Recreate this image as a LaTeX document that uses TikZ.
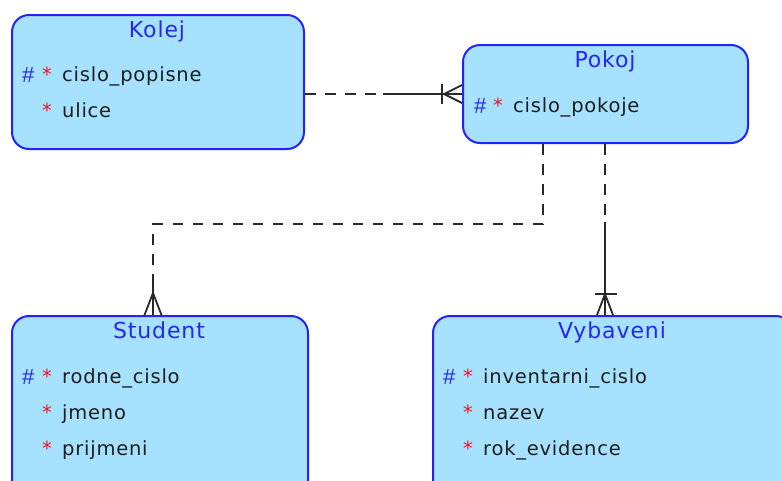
\documentclass[tikz,border=0pt]{standalone}
\usepackage{fontspec}
\setmainfont{DejaVu Sans}
\newfontfamily\spacedfont{DejaVu Sans}[LetterSpace=4]
\newfontfamily\keyfont{Liberation Sans}
\definecolor{entfill}{RGB}{166,225,255}
\definecolor{entline}{RGB}{35,35,255}
\definecolor{titleblue}{RGB}{40,40,235}
\definecolor{keyred}{RGB}{240,20,30}
\definecolor{relline}{RGB}{40,40,40}
\definecolor{txt}{RGB}{30,30,30}
\begin{document}
\begin{tikzpicture}[x=1pt,y=-1pt,
  entity/.style={draw=entline, fill=entfill, line width=2pt,
    rounded corners=17pt, inner sep=0pt, anchor=north west},
  etitle/.style={text=titleblue, inner sep=0pt, anchor=base,
    font=\spacedfont\fontsize{22}{26}\selectfont},
  attr/.style={text=txt, inner sep=0pt, anchor=base west,
    font=\spacedfont\fontsize{19.5}{23}\selectfont},
  pk/.style={text=titleblue, inner sep=0pt, anchor=base west,
    font=\keyfont\fontsize{22}{26}\selectfont},
  mand/.style={text=keyred, inner sep=0pt, anchor=base west,
    font=\fontsize{19.5}{23}\selectfont},
  rel/.style={draw=relline, line width=1.8pt},
  optional/.style={rel, dash pattern=on 10.5pt off 9.5pt},
]
\useasboundingbox (0,0) rectangle (782,480);
\clip (0,0) rectangle (782,480);

% ---- entities ----
\node[entity, minimum width=292pt, minimum height=134pt] (kolej) at (11,14) {};
\node[entity, minimum width=285pt, minimum height=98pt] (pokoj) at (462,44) {};
\node[entity, minimum width=296pt, minimum height=190pt] (student) at (11,315) {};
\node[entity, minimum width=360pt, minimum height=190pt] (vybaveni) at (432,315) {};

% ---- Kolej ----
\node[etitle] (kolejT) at (157,37) {Kolej};
\node[pk]   (kolejH1) at (22,82) {\#};
\node[mand] (kolejS1) at (42,81) {*};
\node[attr] (kolejA1) at (62,81) {cislo\_popisne};
\node[mand] (kolejS2) at (42,117) {*};
\node[attr] (kolejA2) at (62,117) {ulice};

% ---- Pokoj ----
\node[etitle] (pokojT) at (605,67) {Pokoj};
\node[pk]   (pokojH1) at (474,113) {\#};
\node[mand] (pokojS1) at (493,112) {*};
\node[attr] (pokojA1) at (513,112) {cislo\_pokoje};

% ---- Student ----
\node[etitle] (studentT) at (159,338) {Student};
\node[pk]   (studentH1) at (22,384) {\#};
\node[mand] (studentS1) at (42,383) {*};
\node[attr] (studentA1) at (62,383) {rodne\_cislo};
\node[mand] (studentS2) at (42,419) {*};
\node[attr] (studentA2) at (62,419) {jmeno};
\node[mand] (studentS3) at (42,455) {*};
\node[attr] (studentA3) at (62,455) {prijmeni};

% ---- Vybaveni ----
\node[etitle] (vybaveniT) at (612,338) {Vybaveni};
\node[pk]   (vybaveniH1) at (443,384) {\#};
\node[mand] (vybaveniS1) at (463,383) {*};
\node[attr] (vybaveniA1) at (483,383) {inventarni\_cislo};
\node[mand] (vybaveniS2) at (463,419) {*};
\node[attr] (vybaveniA2) at (483,419) {nazev};
\node[mand] (vybaveniS3) at (463,455) {*};
\node[attr] (vybaveniA3) at (483,455) {rok\_evidence};

% ---- Kolej -- Pokoj (one to many) ----
\coordinate (kp) at (383,94);
\coordinate (kpEnd) at (pokoj.west |- kp);
\draw[optional] (kolej.east |- kp) -- (kp);
\draw[rel] (kp) -- (kpEnd);
\draw[rel] (kpEnd) ++(-20,-10) -- ++(0,20);
\draw[rel] (kpEnd) ++(0,-9) -- ++(-18,9) -- ++(18,9);

% ---- Pokoj -- Student (optional many) ----
\coordinate (ps) at (543,224);
\coordinate (sb) at (153,224);
\coordinate (se) at (153,284);
\coordinate (sEnd) at (student.north -| sb);
\draw[optional] (pokoj.south -| ps) -- (ps) -- (sb) -- (se);
\draw[rel] (se) -- (sEnd);
\draw[rel] (sEnd) ++(-8.5,0) -- ++(8.5,-22) -- ++(8.5,22);

% ---- Pokoj -- Vybaveni (one to many) ----
\coordinate (pv) at (605,222);
\coordinate (vEnd) at (vybaveni.north -| pv);
\draw[optional] (pokoj.south -| pv) -- (pv);
\draw[rel] (pv) -- (vEnd);
\draw[rel] (vEnd) ++(-10,-21) -- ++(22,0);
\draw[rel] (vEnd) ++(-8,0) -- ++(8,-21) -- ++(8,21);
\end{tikzpicture}
\end{document}
